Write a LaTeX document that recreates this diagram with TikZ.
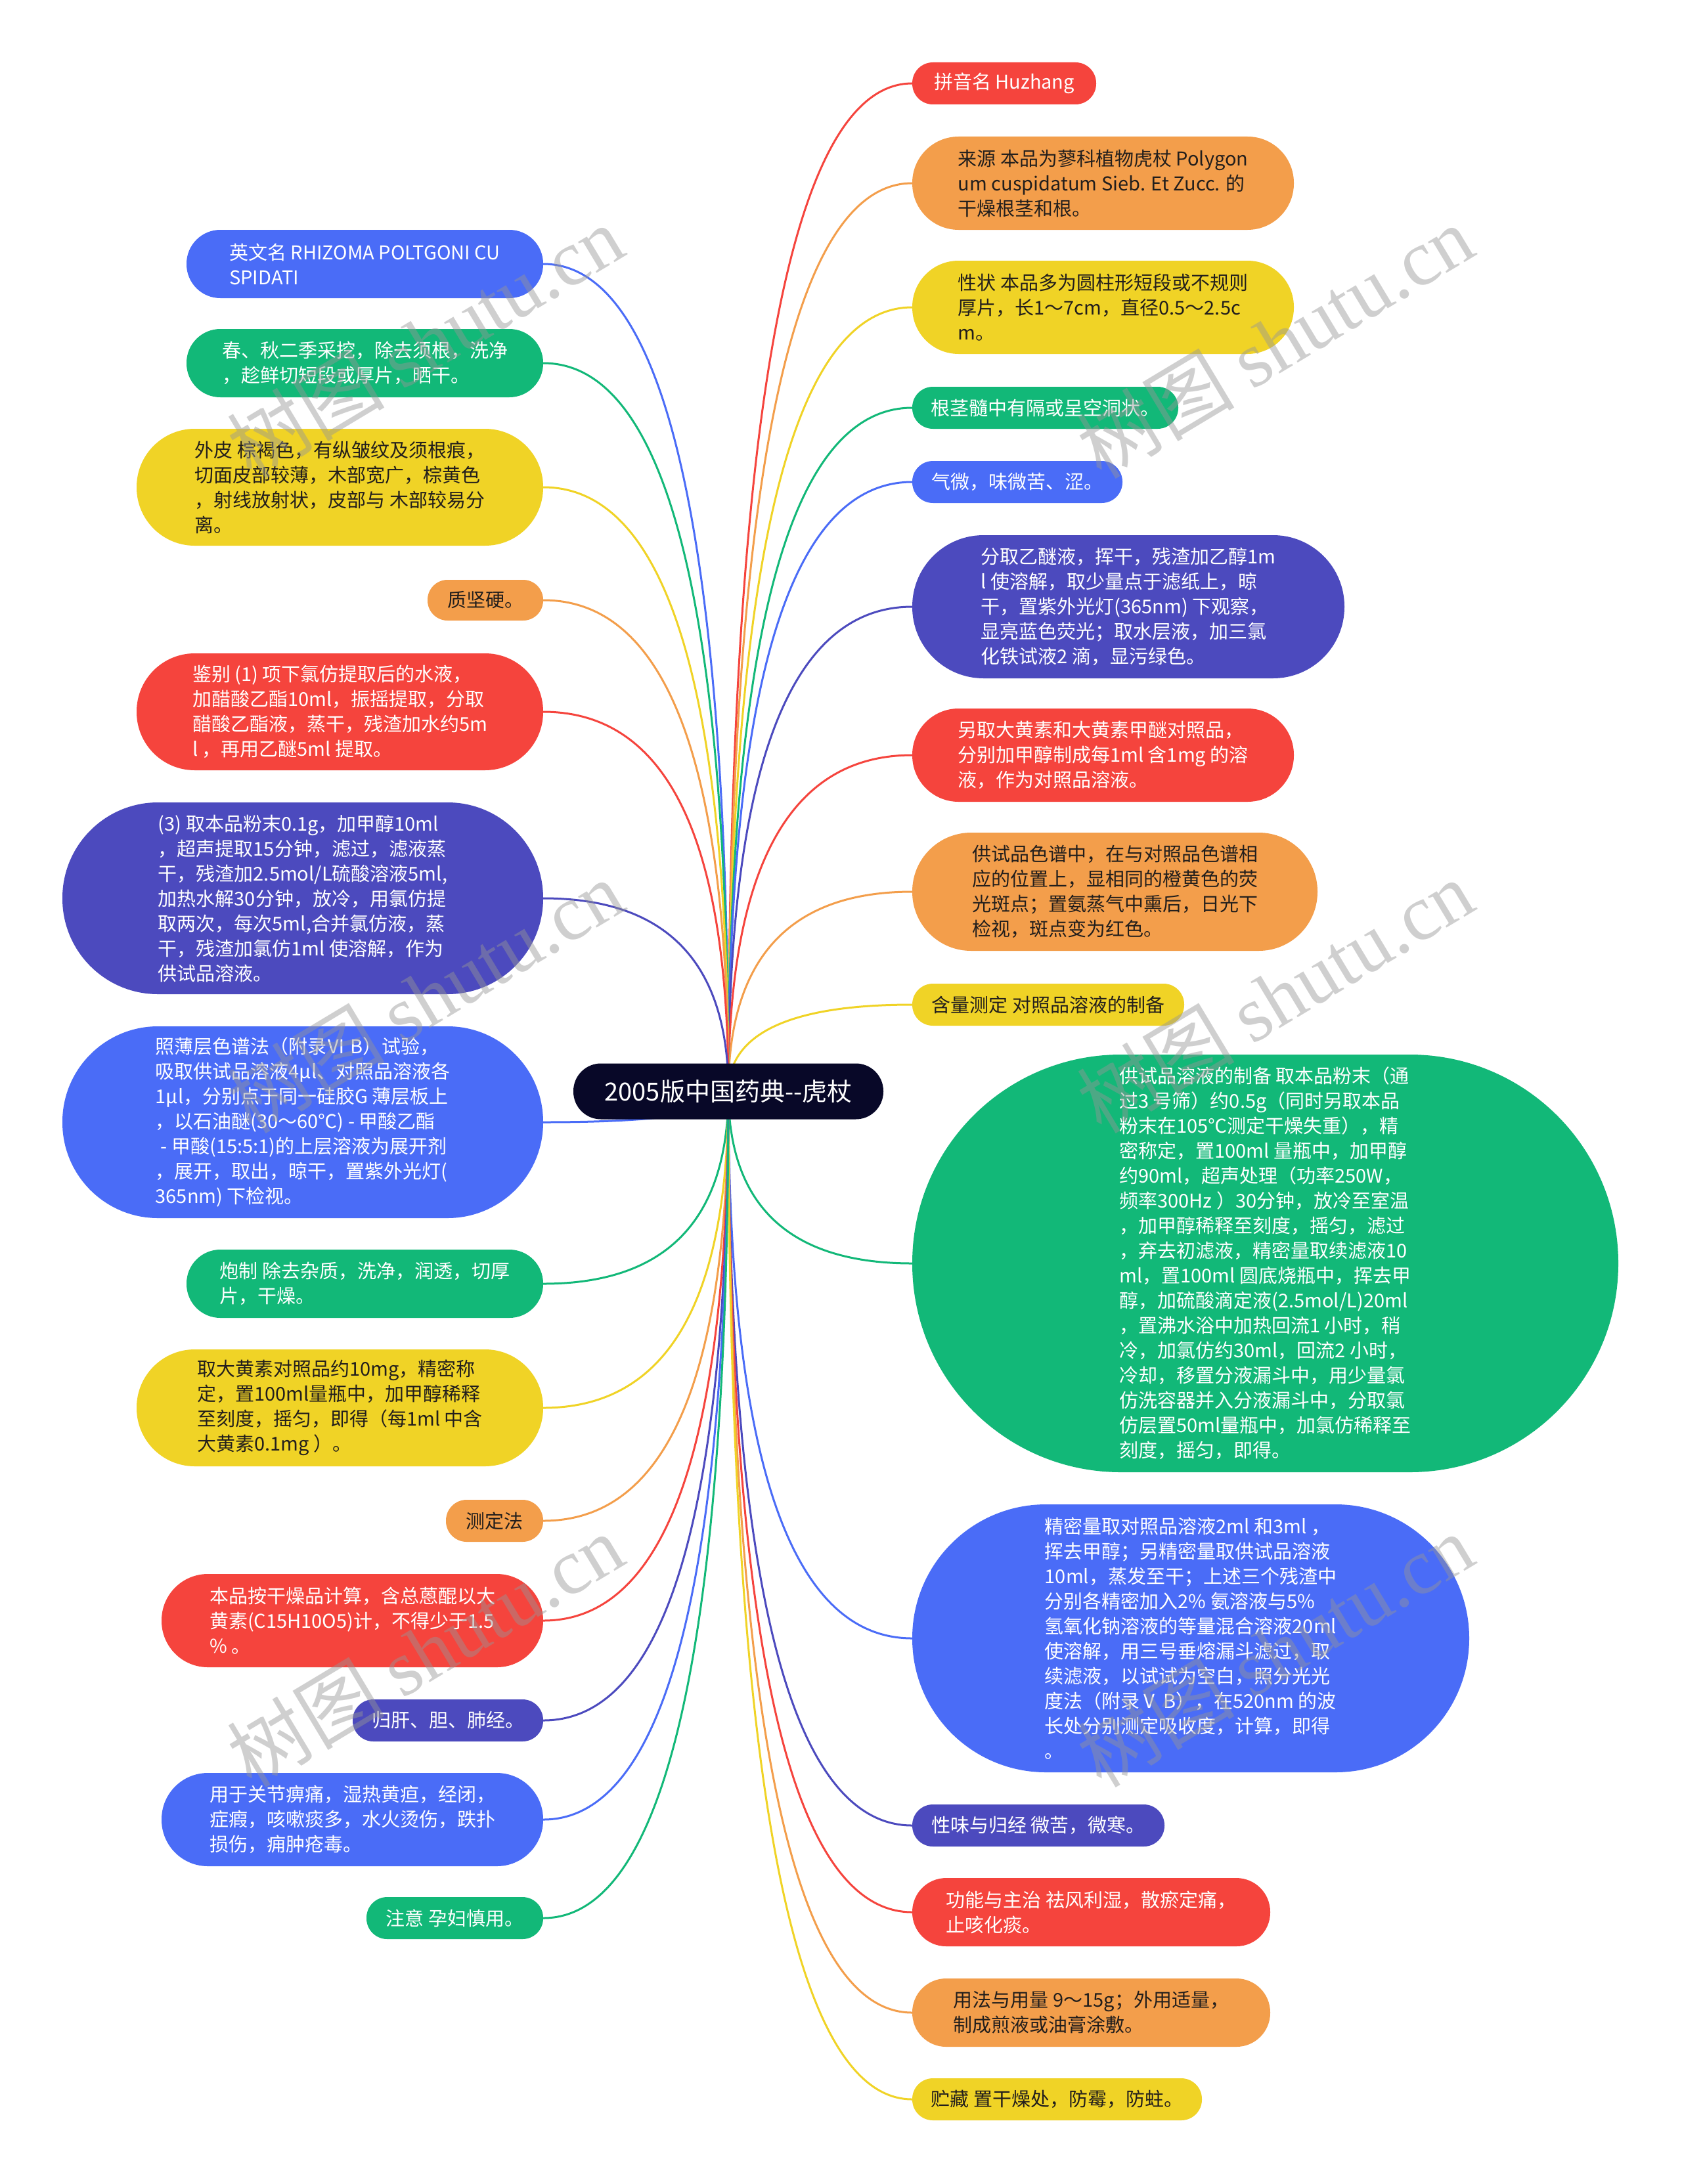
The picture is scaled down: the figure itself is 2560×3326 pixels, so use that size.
\documentclass[tikz,border=0pt]{standalone}
\usepackage{fontspec}
\setmainfont{Noto Sans CJK SC}
\newfontfamily\wmlatin{Liberation Serif}
\usetikzlibrary{calc}
\pgfdeclarelayer{paper}
\pgfdeclarelayer{bg}
\pgfdeclarelayer{fg}
\pgfsetlayers{paper,bg,main,fg}
\definecolor{cRed}{RGB}{245,68,61}
\definecolor{cOrange}{RGB}{243,158,75}
\definecolor{cYellow}{RGB}{240,211,38}
\definecolor{cGreen}{RGB}{18,184,120}
\definecolor{cBlue}{RGB}{74,108,247}
\definecolor{cIndigo}{RGB}{76,74,190}
\definecolor{cRoot}{RGB}{8,8,40}
\definecolor{cDark}{RGB}{34,30,28}
\definecolor{cWM}{RGB}{150,150,150}
\newcommand\mlink[2]{\draw[lk,#1] (root.center) .. controls ($(root.center)!0.667!(root.center |- #2)$) and ($(#2)!0.667!(root.center |- #2)$) .. (#2);}
\begin{document}
\begin{tikzpicture}[x=1pt,y=-1pt,
  base/.style={rectangle, align=left, inner sep=0pt, font=\fontsize{29pt}{38pt}\selectfont},
  cR/.style={base, fill=cRed, text=white},
  cO/.style={base, fill=cOrange, text=cDark},
  cY/.style={base, fill=cYellow, text=cDark},
  cG/.style={base, fill=cGreen, text=white},
  cB/.style={base, fill=cBlue, text=white},
  cI/.style={base, fill=cIndigo, text=white},
  sz/.style n args={3}{minimum width=#1pt, minimum height=#2pt, rounded corners=#3pt},
  rootbox/.style={rectangle, inner sep=0pt, fill=cRoot, text=white, minimum width=472pt, minimum height=85pt, rounded corners=42pt, font=\fontsize{38pt}{46pt}\selectfont},
  lk/.style={line width=3pt},
  wm/.style={inner sep=0pt, text=cWM, text opacity=0.45, rotate=31, font=\fontsize{120pt}{120pt}\selectfont},
]
\begin{pgfonlayer}{paper}
\fill[white] (0,0) rectangle (2560,3326);
\end{pgfonlayer}
\useasboundingbox (0,0) rectangle (2560,3326);

% root
\node[rootbox] (root) at (1109,1662) {2005版中国药典-{}-虎杖};

% right side
\node[cR, sz={280}{64}{31.5}] (r1) at (1529,127) {拼音名 Huzhang};
\node[cO, sz={581}{142}{70.5}] (r2) at (1679.5,279) {来源 本品为蓼科植物虎杖 Polygon\\um cuspidatum Sieb. Et Zucc. 的\\干燥根茎和根。};
\node[cY, sz={581}{142}{70.5}] (r3) at (1679.5,468) {性状 本品多为圆柱形短段或不规则\\厚片，长1～7cm，直径0.5～2.5c\\m。};
\node[cG, sz={405}{64}{31.5}] (r4) at (1591.5,621) {根茎髓中有隔或呈空洞状。};
\node[cB, sz={320}{64}{31.5}] (r5) at (1549,734) {气微，味微苦、涩。};
\node[cI, sz={658}{218}{108.5}] (r6) at (1718,924) {分取乙醚液，挥干，残渣加乙醇1m\\l 使溶解，取少量点于滤纸上，晾\\干，置紫外光灯(365nm) 下观察，\\显亮蓝色荧光；取水层液，加三氯\\化铁试液2 滴，显污绿色。};
\node[cR, sz={581}{142}{70.5}] (r7) at (1679.5,1150) {另取大黄素和大黄素甲醚对照品，\\分别加甲醇制成每1ml 含1mg 的溶\\液，作为对照品溶液。};
\node[cO, sz={617}{180}{89.5}] (r8) at (1697.5,1358) {供试品色谱中，在与对照品色谱相\\应的位置上，显相同的橙黄色的荧\\光斑点；置氨蒸气中熏后，日光下\\检视，斑点变为红色。};
\node[cY, sz={414}{64}{31.5}] (r9) at (1596,1530) {含量测定 对照品溶液的制备};
\node[cG, sz={1075}{636}{317.5}] (r10) at (1926.5,1924) {供试品溶液的制备 取本品粉末（通\\过3 号筛）约0.5g（同时另取本品\\粉末在105℃测定干燥失重），精\\密称定，置100ml 量瓶中，加甲醇\\约90ml，超声处理（功率250W，\\频率300Hz ）30分钟，放冷至室温\\，加甲醇稀释至刻度，摇匀，滤过\\，弃去初滤液，精密量取续滤液10\\ml，置100ml 圆底烧瓶中，挥去甲\\醇，加硫酸滴定液(2.5mol/L)20ml\\，置沸水浴中加热回流1 小时，稍\\冷，加氯仿约30ml，回流2 小时，\\冷却，移置分液漏斗中，用少量氯\\仿洗容器并入分液漏斗中，分取氯\\仿层置50ml量瓶中，加氯仿稀释至\\刻度，摇匀，即得。};
\node[cB, sz={848}{408}{203.5}] (r11) at (1813,2495) {精密量取对照品溶液2ml 和3ml ，\\挥去甲醇；另精密量取供试品溶液\\10ml，蒸发至干；上述三个残渣中\\分别各精密加入2\% 氨溶液与5\%\\氢氧化钠溶液的等量混合溶液20ml\\使溶解，用三号垂熔漏斗滤过，取\\续滤液，以试试为空白，照分光光\\度法（附录Ⅴ B），在520nm 的波\\长处分别测定吸收度，计算，即得\\。};
\node[cI, sz={384}{64}{31.5}] (r12) at (1581,2780) {性味与归经 微苦，微寒。};
\node[cR, sz={545}{104}{51.5}] (r13) at (1661.5,2912) {功能与主治 祛风利湿，散瘀定痛，\\止咳化痰。};
\node[cO, sz={545}{104}{51.5}] (r14) at (1661.5,3065) {用法与用量 9～15g；外用适量，\\制成煎液或油膏涂敷。};
\node[cY, sz={441}{64}{31.5}] (r15) at (1609.5,3197) {贮藏 置干燥处，防霉，防蛀。};

% left side
\node[cB, sz={543}{104}{51.5}] (l1) at (555.5,402) {英文名 RHIZOMA POLTGONI CU\\SPIDATI};
\node[cG, sz={543}{104}{51.5}] (l2) at (555.5,553) {春、秋二季采挖，除去须根，洗净\\，趁鲜切短段或厚片，晒干。};
\node[cY, sz={619}{178}{88.5}] (l3) at (517.5,742) {外皮 棕褐色，有纵皱纹及须根痕，\\切面皮部较薄，木部宽广，棕黄色\\，射线放射状，皮部与 木部较易分\\离。};
\node[cO, sz={176}{62}{30.5}] (l4) at (739,914) {质坚硬。};
\node[cR, sz={619}{178}{88.5}] (l5) at (517.5,1084) {鉴别 (1) 项下氯仿提取后的水液，\\加醋酸乙酯10ml，振摇提取，分取\\醋酸乙酯液，蒸干，残渣加水约5m\\l ，再用乙醚5ml 提取。};
\node[cI, sz={732}{292}{145.5}] (l6) at (461,1368) {(3) 取本品粉末0.1g，加甲醇10ml\\，超声提取15分钟，滤过，滤液蒸\\干，残渣加2.5mol/L硫酸溶液5ml,\\加热水解30分钟，放冷，用氯仿提\\取两次，每次5ml,合并氯仿液，蒸\\干，残渣加氯仿1ml 使溶解，作为\\供试品溶液。};
\node[cB, sz={732}{292}{145.5}] (l7) at (461,1709) {照薄层色谱法（附录Ⅵ B）试验，\\吸取供试品溶液4μl、对照品溶液各\\1μl，分别点于同一硅胶G 薄层板上\\，以石油醚(30～60℃) - 甲酸乙酯\\\hspace*{8pt}- 甲酸(15:5:1)的上层溶液为展开剂\\，展开，取出，晾干，置紫外光灯(\\365nm) 下检视。};
\node[cG, sz={543}{104}{51.5}] (l8) at (555.5,1955) {炮制 除去杂质，洗净，润透，切厚\\片，干燥。};
\node[cY, sz={619}{178}{88.5}] (l9) at (517.5,2144) {取大黄素对照品约10mg，精密称\\定，置100ml量瓶中，加甲醇稀释\\至刻度，摇匀，即得（每1ml 中含\\大黄素0.1mg ）。};
\node[cO, sz={148}{64}{31.5}] (l10) at (753,2316) {测定法};
\node[cR, sz={581}{142}{70.5}] (l11) at (536.5,2468) {本品按干燥品计算，含总蒽醌以大\\黄素(C15H10O5)计，不得少于1.5\\\% 。};
\node[cI, sz={290}{64}{31.5}] (l12) at (682,2620) {归肝、胆、肺经。};
\node[cB, sz={581}{142}{70.5}] (l13) at (536.5,2771) {用于关节痹痛，湿热黄疸，经闭，\\症瘕，咳嗽痰多，水火烫伤，跌扑\\损伤，痈肿疮毒。};
\node[cG, sz={269}{64}{31.5}] (l14) at (692.5,2921) {注意 孕妇慎用。};

% connectors
\begin{pgfonlayer}{bg}
\mlink{cRed}{r1.west}
\mlink{cOrange}{r2.west}
\mlink{cYellow}{r3.west}
\mlink{cGreen}{r4.west}
\mlink{cBlue}{r5.west}
\mlink{cIndigo}{r6.west}
\mlink{cRed}{r7.west}
\mlink{cOrange}{r8.west}
\mlink{cYellow}{r9.west}
\mlink{cGreen}{r10.west}
\mlink{cBlue}{r11.west}
\mlink{cIndigo}{r12.west}
\mlink{cRed}{r13.west}
\mlink{cOrange}{r14.west}
\mlink{cYellow}{r15.west}
\mlink{cBlue}{l1.east}
\mlink{cGreen}{l2.east}
\mlink{cYellow}{l3.east}
\mlink{cOrange}{l4.east}
\mlink{cRed}{l5.east}
\mlink{cIndigo}{l6.east}
\mlink{cBlue}{l7.east}
\mlink{cGreen}{l8.east}
\mlink{cYellow}{l9.east}
\mlink{cOrange}{l10.east}
\mlink{cRed}{l11.east}
\mlink{cIndigo}{l12.east}
\mlink{cBlue}{l13.east}
\mlink{cGreen}{l14.east}
\end{pgfonlayer}

% watermarks
\begin{pgfonlayer}{fg}
\node[wm] (wm1) at (647,520) {树图 {\wmlatin shutu.cn}};
\node[wm] (wm2) at (1941,520) {树图 {\wmlatin shutu.cn}};
\node[wm] (wm3) at (647,1517) {树图 {\wmlatin shutu.cn}};
\node[wm] (wm4) at (1941,1517) {树图 {\wmlatin shutu.cn}};
\node[wm] (wm5) at (647,2513) {树图 {\wmlatin shutu.cn}};
\node[wm] (wm6) at (1941,2513) {树图 {\wmlatin shutu.cn}};
\end{pgfonlayer}
\end{tikzpicture}
\end{document}
